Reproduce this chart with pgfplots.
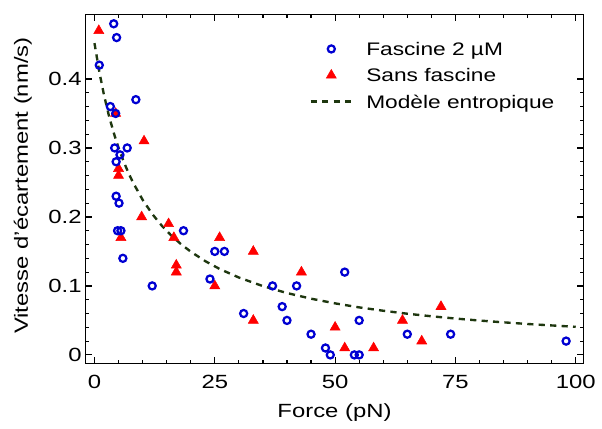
\documentclass[border=0pt]{standalone}
\usepackage{fontspec}
\setmainfont{Liberation Sans}[FakeStretch=1.25]
\usepackage{pgfplots}
\pgfplotsset{compat=1.18}

\definecolor{fblue}{RGB}{0,0,210}
\definecolor{sred}{RGB}{255,0,0}
\definecolor{mgreen}{RGB}{30,55,15}

% Fascine 2 uM
\pgfplotstableread{
x y
1 0.42
4 0.48
4.6 0.46
8.6 0.37
3.3 0.36
4.4 0.35
4.2 0.30
6.8 0.30
5.3 0.29
4.5 0.28
4.5 0.23
5.1 0.22
4.8 0.18
5.5 0.18
18.5 0.18
5.9 0.14
25 0.15
27 0.15
12 0.10
24 0.11
37 0.10
42 0.10
31 0.06
52 0.12
39 0.07
40 0.05
55 0.05
45 0.03
65 0.03
74 0.03
98 0.02
48 0.01
49 0.00
54 0.00
55 0.00
}\fascine

% Sans fascine
\pgfplotstableread{
x y
0.9 0.47
4.4 0.35
10.3 0.31
5 0.27
5 0.26
9.8 0.20
15.4 0.19
5.5 0.17
16.5 0.17
26 0.17
33 0.15
17 0.13
17 0.12
43 0.12
25 0.10
33 0.05
72 0.07
64 0.05
50 0.04
68 0.02
52 0.01
58 0.01
}\sans

% Modele entropique
\pgfplotstableread{
x y
0 0.452
1 0.4105
2 0.3760
3 0.3469
4 0.3219
5 0.3003
6 0.2814
7 0.2648
8 0.2500
10 0.2249
12 0.2043
14 0.1872
16 0.1728
18 0.1604
20 0.1497
23 0.1360
26 0.1246
30 0.1122
35 0.0997
40 0.0897
45 0.0815
50 0.0747
55 0.0689
60 0.0640
65 0.0597
70 0.0560
75 0.0527
80 0.0498
85 0.0472
90 0.0448
95 0.0427
100 0.0407
}\model

\begin{document}
\fontsize{14.5}{17}\selectfont
\begin{tikzpicture}
\begin{axis}[
scale only axis,
width=378.2pt, height=265.1pt,
xmin=-1.85, xmax=101.6,
ymin=-0.0126, ymax=0.4933,
xtick={0,25,50,75,100},
ytick={0,0.1,0.2,0.3,0.4},
minor tick num=4,
/pgf/number format/assume math mode=true,
axis line style={line width=1.1pt},
every tick/.style={black, line width=0.9pt},
major tick length=4.9pt,
minor tick length=2.8pt,
yticklabel style={xshift=2pt},
xticklabel style={yshift=-4pt},
xlabel={Force (pN)},
ylabel={Vitesse d'écartement (nm/s)},
every axis x label/.style={at={(axis description cs:0.5,-0.1556)}, anchor=base},
every axis y label/.style={at={(axis description cs:-0.1158,0.51)}, anchor=base, rotate=90},
legend image code/.code={\draw[mark repeat=2,mark phase=2,#1] plot coordinates {(0pt,0pt) (15.65pt,0pt) (31.3pt,0pt)};},
legend style={at={(axis description cs:0.4493,0.9325)}, anchor=north west,
  draw=none, fill=none, inner sep=0pt, row sep=4pt, column sep=10pt,
  cells={anchor=west},
  nodes={inner sep=0pt, text height=13pt, text depth=3pt, font=\fontsize{13.8}{16}\selectfont}},
fasc/.style={only marks, mark=o, mark size=2.7pt, fblue, line width=1.7pt},
sansf/.style={only marks, mark=triangle*, mark size=4.4pt, sred, line width=0.4pt},
modl/.style={no marks, mgreen, line width=1.8pt, dash pattern=on 4.7pt off 4pt},
]
\addlegendimage{fasc}
\addlegendentry{Fascine 2 µM}
\addlegendimage{sansf}
\addlegendentry{Sans fascine}
\addlegendimage{modl}
\addlegendentry{Modèle entropique}

\addplot[modl, forget plot] table {\model};
\addplot[sansf, forget plot] table {\sans};
\addplot[fasc, forget plot] table {\fascine};
\end{axis}
\path (current axis.south west) ++(-65pt,-46.3pt) rectangle ++(451.5pt,322.5pt);
\end{tikzpicture}
\end{document}
